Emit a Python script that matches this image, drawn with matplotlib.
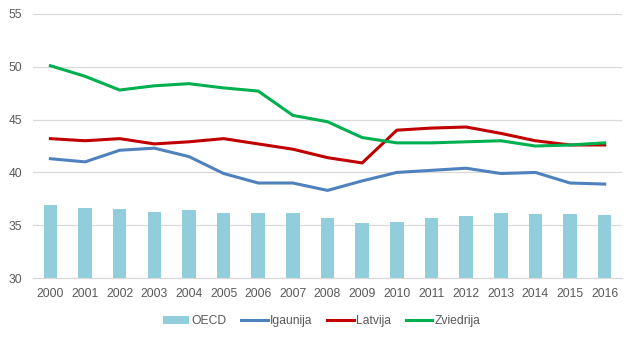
import numpy as np
import matplotlib
matplotlib.use("Agg")
from matplotlib import pyplot as plt

years = [str(y) for y in range(2000, 2017)]
oecd = [36.9, 36.6, 36.5, 36.3, 36.4, 36.2, 36.2, 36.2, 35.7, 35.2, 35.3, 35.7, 35.9, 36.2, 36.1, 36.1, 36.0]
igaunija = [41.3, 41.0, 42.1, 42.3, 41.5, 39.9, 39.0, 39.0, 38.3, 39.2, 40.0, 40.2, 40.4, 39.9, 40.0, 39.0, 38.9]
latvija = [43.2, 43.0, 43.2, 42.7, 42.9, 43.2, 42.7, 42.2, 41.4, 40.9, 44.0, 44.2, 44.3, 43.7, 43.0, 42.6, 42.6]
zviedrija = [50.1, 49.1, 47.8, 48.2, 48.4, 48.0, 47.7, 45.4, 44.8, 43.3, 42.8, 42.8, 42.9, 43.0, 42.5, 42.6, 42.8]

plt.rcParams['font.family'] = ['Liberation Sans', 'DejaVu Sans']

fig = plt.figure(figsize=(6.36, 3.40), dpi=100)
ax = fig.add_axes([0.052, 0.182, 0.926, 0.777])

x = np.arange(len(years))
b = ax.bar(x, np.array(oecd) - 30, bottom=30, width=0.39, color='#92CDDC', label='OECD', zorder=2)
l1, = ax.plot(x, igaunija, color='#4F81BD', lw=2.2, label='Igaunija', zorder=3)
l2, = ax.plot(x, latvija, color='#C00000', lw=2.2, label='Latvija', zorder=3)
l3, = ax.plot(x, zviedrija, color='#00B050', lw=2.2, label='Zviedrija', zorder=3)

ax.set_xlim(-0.5, len(years) - 0.5)
ax.set_ylim(30, 55)
ax.set_yticks(range(30, 56, 5))
ax.set_xticks(x)
ax.set_xticklabels(years)
ax.yaxis.grid(True, color='#D9D9D9', lw=0.9, zorder=0)
ax.set_axisbelow(True)
for s in ['top', 'right', 'left']:
    ax.spines[s].set_visible(False)
ax.spines['bottom'].set_color('#D9D9D9')
ax.tick_params(length=0, labelsize=8.7, colors='#595959', pad=7)
ax.tick_params(axis='y', pad=8)

ax.legend([b, l1, l2, l3], ['OECD', 'Igaunija', 'Latvija', 'Zviedrija'],
          loc='upper center', bbox_to_anchor=(0.49, -0.1), ncol=4, frameon=False,
          fontsize=8.7, labelcolor='#595959', handlelength=2.2, handletextpad=0.2,
          columnspacing=1.2)

fig.savefig('out.png', dpi=100)
